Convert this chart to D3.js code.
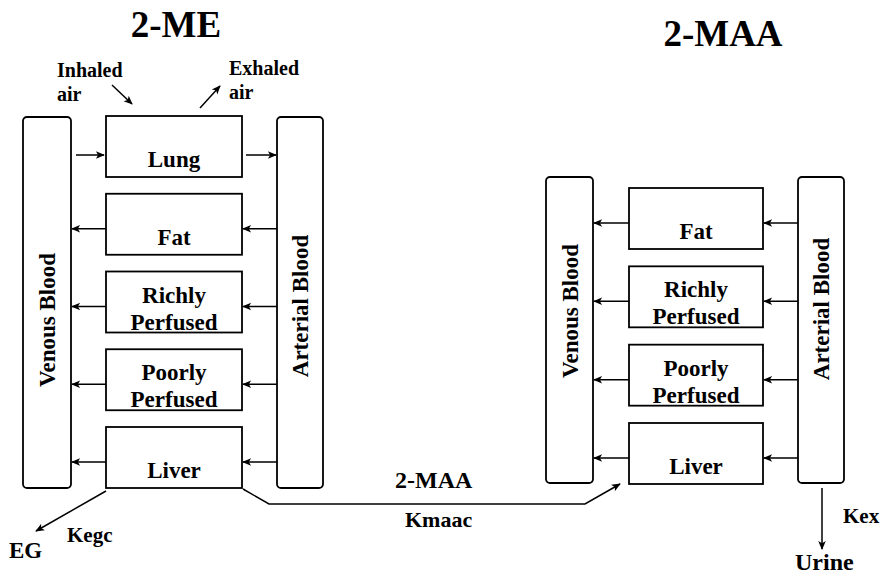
<!DOCTYPE html>
<html>
<head>
<meta charset="utf-8">
<script src="https://cdn.jsdelivr.net/npm/d3@7"></script>
<style>
  html, body { margin: 0; padding: 0; background: #fff; }
  text { font-family: "Liberation Serif", "Times New Roman", serif; font-weight: bold; fill: #000; }
</style>
</head>
<body>
<svg id="chart" width="881" height="576"></svg>
<script>
// compartments of the two models, top to bottom
const titles       = ['2-ME', '2-MAA']
const meOrgans     = ['Lung', 'Fat', 'Richly\nPerfused', 'Poorly\nPerfused', 'Liver']
const maaOrgans    = ['Fat', 'Richly\nPerfused', 'Poorly\nPerfused', 'Liver']
const bloodLabels  = ['Venous Blood', 'Arterial Blood']
const airLabels    = ['Inhaled\nair', 'Exhaled\nair']
const flowLabels   = ['2-MAA', 'Kmaac', 'Kegc', 'EG', 'Kex', 'Urine']

const svg = d3.select('#chart')

const defs = svg.append('defs')
defs.append('marker')
  .attr('id', 'head')
  .attr('viewBox', '0 -5 10 10')
  .attr('refX', 9)
  .attr('refY', 0)
  .attr('markerUnits', 'userSpaceOnUse')
  .attr('markerWidth', 10)
  .attr('markerHeight', 9)
  .attr('orient', 'auto')
  .append('path')
  .attr('d', 'M0,-4.2L10,0L0,4.2L2.5,0Z')
  .attr('fill', '#000')

const boxH = 61

// one model: title, blood columns, organ boxes and the flows between them
const models = [
  {
    title: titles[0], tx: 176, ty: 37,
    organs: meOrgans,
    rowY: d3.scaleLinear().domain([0, 4]).range([116, 427]),
    boxX: [106, 242],
    venous: [23, 71], arterial: [277, 323], colY: [117, 488],
    venLabel: 320, artLabel: 306
  },
  {
    title: titles[1], tx: 723, ty: 46,
    organs: maaOrgans,
    rowY: d3.scaleLinear().domain([0, 3]).range([188, 423]),
    boxX: [629, 763],
    venous: [546, 593], arterial: [798, 844], colY: [177, 483],
    venLabel: 311, artLabel: 309
  }
]

const line = d3.line()

models.forEach((m) =>
{
  const g = svg.append('g')

  g.append('text')
    .attr('x', m.tx).attr('y', m.ty)
    .attr('text-anchor', 'middle')
    .style('font-size', '37px')
    .text(m.title)

  // blood columns
  const cols = [m.venous, m.arterial]
  cols.forEach((c, i) =>
  {
    g.append('rect')
      .attr('x', c[0]).attr('y', m.colY[0])
      .attr('width', c[1] - c[0]).attr('height', m.colY[1] - m.colY[0])
      .attr('rx', 4)
      .attr('fill', 'none').attr('stroke', '#000').attr('stroke-width', 1.8)

    const cx = (c[0] + c[1]) / 2 + 8
    const cy = i === 0 ? m.venLabel : m.artLabel
    g.append('text')
      .attr('transform', `translate(${cx},${cy}) rotate(-90)`)
      .attr('text-anchor', 'middle')
      .style('font-size', '23px')
      .text(bloodLabels[i])
  })

  // organ boxes
  m.organs.forEach((name, i) =>
  {
    const y = m.rowY(i)
    const rows = name.split('\n')
    const mid = (m.boxX[0] + m.boxX[1]) / 2

    g.append('rect')
      .attr('x', m.boxX[0]).attr('y', y)
      .attr('width', m.boxX[1] - m.boxX[0]).attr('height', boxH)
      .attr('fill', 'none').attr('stroke', '#000').attr('stroke-width', 1.8)

    const base = rows.length === 1 ? [y + 51] : [y + 31, y + 58]
    rows.forEach((r, j) =>
    {
      g.append('text')
        .attr('x', mid).attr('y', base[j])
        .attr('text-anchor', 'middle')
        .style('font-size', '23px')
        .text(r)
    })

    const ay = y + (name === 'Lung' ? 39 : 35)
    let flows
    if(name === 'Lung')
    {
      // venous -> lung -> arterial
      flows = [[[m.venous[1] + 5, ay], [m.boxX[0] - 2, ay]],
               [[m.boxX[1] + 4, ay], [m.arterial[0] - 1, ay]]]
    }
    else
    {
      // arterial -> organ -> venous
      flows = [[[m.boxX[0], ay], [m.venous[1] + 1, ay]],
               [[m.arterial[0], ay], [m.boxX[1] + 1, ay]]]
    }
    flows.forEach((f) =>
    {
      g.append('path')
        .attr('d', line(f))
        .attr('fill', 'none').attr('stroke', '#000').attr('stroke-width', 1.5)
        .attr('marker-end', 'url(#head)')
    })
  })
})

// air in / out of the lung
const airPos = [[57, 77], [229, 75]]
airLabels.forEach((t, i) =>
{
  t.split('\n').forEach((r, j) =>
  {
    svg.append('text')
      .attr('x', airPos[i][0]).attr('y', airPos[i][1] + j * 24)
      .style('font-size', '20px')
      .text(r)
  })
})
const airArrows = [[[112, 85], [132, 104]], [[200, 108], [220, 86]]]
airArrows.forEach((a) =>
{
  svg.append('path')
    .attr('d', line(a))
    .attr('fill', 'none').attr('stroke', '#000').attr('stroke-width', 1.5)
    .attr('marker-end', 'url(#head)')
})

// metabolism and excretion
const meLiverBottom = models[0].rowY(4) + boxH
const maaLiver = models[1].rowY(3)
const outFlows = [
  [[106, meLiverBottom + 3], [36, 531]],
  [[243, meLiverBottom + 1], [269, 504], [585, 504], [620, maaLiver + 61]],
  [[822, models[1].colY[1] + 5], [822, 549]]
]
outFlows.forEach((f) =>
{
  svg.append('path')
    .attr('d', line(f))
    .attr('fill', 'none').attr('stroke', '#000').attr('stroke-width', 1.5)
    .attr('marker-end', 'url(#head)')
})

const flowPos = [[395, 488, 24], [405, 527, 22], [67, 542, 21], [9, 558, 23], [843, 523, 21], [795, 570, 24]]
flowLabels.forEach((t, i) =>
{
  svg.append('text')
    .attr('x', flowPos[i][0]).attr('y', flowPos[i][1])
    .style('font-size', flowPos[i][2] + 'px')
    .text(t)
})
</script>
</body>
</html>
